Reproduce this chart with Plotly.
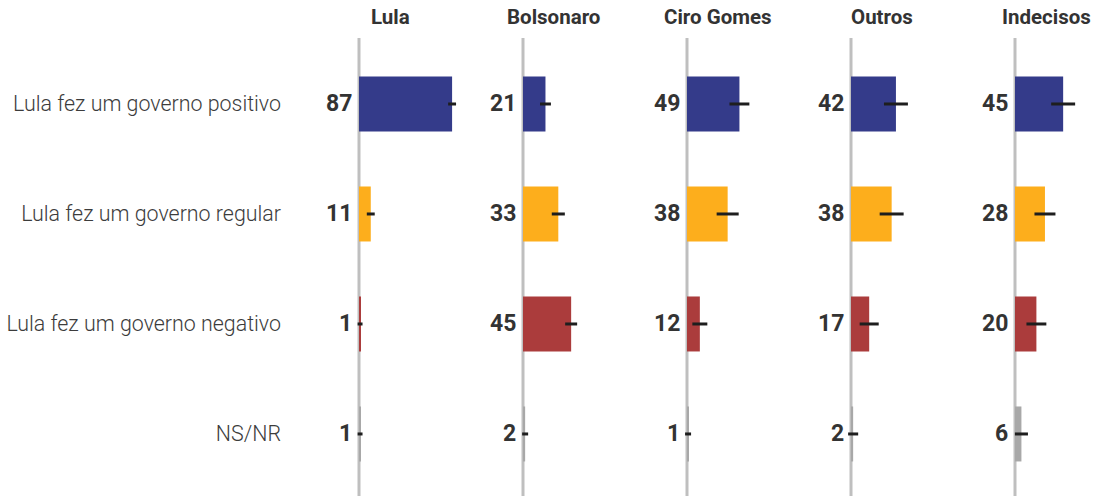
import plotly.graph_objects as go

# Data (percentages and margin of error)
categorias = ["Lula fez um governo positivo", "Lula fez um governo regular",
              "Lula fez um governo negativo", "NS/NR"]
grupos = ["Lula", "Bolsonaro", "Ciro Gomes", "Outros", "Indecisos"]

lula = [87, 11, 1, 1]
bolsonaro = [21, 33, 45, 2]
ciro = [49, 38, 12, 1]
outros = [42, 38, 17, 2]
indecisos = [45, 28, 20, 6]

erro_lula = [3.7, 3.7, 2.3, 2.3]
erro_bolsonaro = [5.1, 6.1, 5.6, 2.8]
erro_ciro = [9.3, 10.3, 7.0, 2.8]
erro_outros = [11.2, 11.2, 8.9, 4.7]
erro_indecisos = [11.2, 9.8, 9.3, 6.1]

cores = ["#343b8a", "#fdae1c", "#ab3c3c", "#a8a8a8"]

valores = [lula, bolsonaro, ciro, outros, indecisos]
erros = [erro_lula, erro_bolsonaro, erro_ciro, erro_outros, erro_indecisos]

W, H = 1094, 496
PX_PER_UNIT = 1.07      # pixels per percentage point
ZERO0, STEP = 359, 164  # pixel x of first zero line, spacing between panels
PAD = 6                 # px of room left of each zero line inside the panel
TOP = 38

fig = go.Figure()
layout = dict(
    width=W, height=H,
    margin=dict(l=0, r=0, t=TOP, b=0, autoexpand=False),
    plot_bgcolor="white", paper_bgcolor="white",
    showlegend=False,
    font=dict(family="Roboto", color="#333333"),
    yaxis=dict(type="category", categoryorder="array", categoryarray=categorias,
               range=[3.564, -0.6], showgrid=False, zeroline=False, showline=False,
               ticks="", ticklabelstandoff=77 - PAD, anchor="x", automargin=False,
               tickfont=dict(family="Roboto", size=21.4, weight=300, color="#3c3c3c")),
)
annotations = []
shapes = []

for k, (grupo, vals, errs) in enumerate(zip(grupos, valores, erros)):
    zero = ZERO0 + STEP * k
    width_px = 110 if k < 4 else W - zero
    ax = "x" if k == 0 else f"x{k + 1}"
    axname = "xaxis" if k == 0 else f"xaxis{k + 1}"
    layout[axname] = dict(domain=[(zero - PAD) / W, (zero + width_px) / W],
                          range=[-PAD / PX_PER_UNIT, width_px / PX_PER_UNIT],
                          anchor="y", showgrid=False, zeroline=False,
                          showticklabels=False, showline=False, ticks="")
    fig.add_trace(go.Bar(
        x=vals, y=categorias, orientation="h", xaxis=ax, yaxis="y",
        marker=dict(color=cores, line=dict(width=0)), width=0.5,
        error_x=dict(type="data", array=errs, color="#1e1e1e", thickness=3, width=0),
        hoverinfo="x+y",
    ))
    shapes.append(dict(type="line", xref=ax, yref="paper", x0=0, x1=0, y0=0, y1=1,
                       line=dict(color="#bfbfbf", width=3), layer="below"))
    for cat, v in zip(categorias, vals):
        annotations.append(dict(x=0, y=cat, xref=ax, yref="y", text=str(v),
                                showarrow=False, xanchor="right", xshift=-5,
                                font=dict(family="Roboto", size=23, weight="bold",
                                          color="#333333")))
    annotations.append(dict(x=(zero + 31) / W, y=1, xref="paper", yref="paper",
                            text=grupo, showarrow=False, xanchor="center",
                            yanchor="middle", yshift=21,
                            font=dict(family="Roboto", size=20.5, weight="bold",
                                      color="#333333")))

layout["annotations"] = annotations
layout["shapes"] = shapes
fig.update_layout(**layout)
# drop the page's default body margin so the figure sits at the window origin
fig.write_html("out.html", config={"displayModeBar": False},
               post_script="document.body.style.margin='0';")
